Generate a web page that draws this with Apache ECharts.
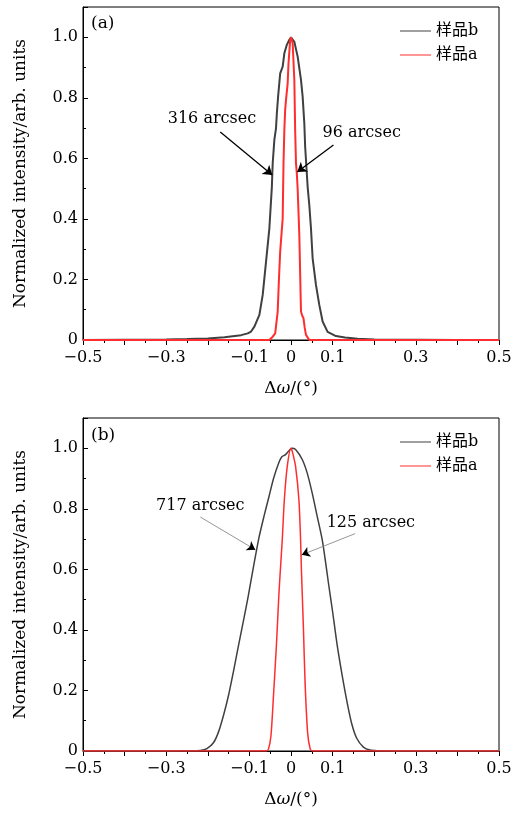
<!DOCTYPE html>
<html>
<head>
<meta charset="utf-8">
<script src="https://cdn.jsdelivr.net/npm/echarts@6/dist/echarts.min.js"></script>
<style>
    html, body { margin: 0; padding: 0; background: #fff; }
    #contain { width: 520px; height: 814px; }
</style>
</head>
<body>
<div id="contain"></div>
<script>
// (a) 顶部图
var topBX = [-0.5, -0.4, -0.3, -0.25, -0.2, -0.16, -0.12, -0.104, -0.096, -0.088, -0.076, -0.068, -0.060, -0.052, -0.046, -0.044, -0.040, -0.036, -0.034, -0.031, -0.026, -0.020, -0.016, -0.010, -0.004, 0, 0.004, 0.008, 0.016, 0.024, 0.028, 0.032, 0.034, 0.038, 0.040, 0.044, 0.048, 0.052, 0.060, 0.068, 0.076, 0.088, 0.108, 0.13, 0.16, 0.2, 0.25, 0.3, 0.4, 0.5];
var topBY = [0, 0.001, 0.002, 0.003, 0.005, 0.009, 0.016, 0.022, 0.028, 0.044, 0.083, 0.149, 0.259, 0.369, 0.506, 0.584, 0.661, 0.700, 0.749, 0.804, 0.881, 0.903, 0.947, 0.975, 0.992, 1.0, 0.995, 0.985, 0.936, 0.859, 0.804, 0.716, 0.639, 0.551, 0.506, 0.446, 0.369, 0.270, 0.182, 0.116, 0.061, 0.027, 0.013, 0.008, 0.004, 0.002, 0.001, 0.001, 0, 0];
var topAX = [-0.5, -0.052, -0.044, -0.038, -0.034, -0.032, -0.029, -0.026, -0.020, -0.018, -0.016, -0.014, -0.012, -0.008, -0.006, -0.002, 0, 0.004, 0.008, 0.010, 0.012, 0.014, 0.016, 0.020, 0.024, 0.027, 0.030, 0.033, 0.036, 0.044, 0.5];
var topAY = [0, 0, 0.011, 0.022, 0.028, 0.094, 0.2, 0.292, 0.402, 0.584, 0.694, 0.760, 0.793, 0.848, 0.914, 0.991, 1.0, 0.980, 0.859, 0.694, 0.584, 0.55, 0.50, 0.347, 0.094, 0.08, 0.072, 0.04, 0.017, 0, 0];

// (b) 底部图
var botBX = [-0.5, -0.3, -0.25, -0.218, -0.202, -0.186, -0.174, -0.162, -0.150, -0.138, -0.126, -0.114, -0.103, -0.090, -0.077, -0.065, -0.053, -0.042, -0.030, -0.022, -0.014, -0.006, 0.002, 0.011, 0.027, 0.039, 0.051, 0.063, 0.075, 0.083, 0.090, 0.100, 0.111, 0.123, 0.135, 0.146, 0.158, 0.174, 0.190, 0.21, 0.25, 0.3, 0.5];
var botBY = [0, 0, 0.001, 0.002, 0.008, 0.028, 0.064, 0.119, 0.185, 0.265, 0.350, 0.432, 0.51, 0.61, 0.705, 0.775, 0.840, 0.900, 0.950, 0.972, 0.978, 0.99, 1.0, 0.996, 0.963, 0.918, 0.852, 0.775, 0.698, 0.625, 0.555, 0.46, 0.35, 0.25, 0.16, 0.09, 0.042, 0.013, 0.003, 0.001, 0, 0, 0];
var botAX = [-0.5, -0.06, -0.054, -0.048, -0.042, -0.035, -0.029, -0.025, -0.021, -0.016, -0.009, 0, 0.004, 0.011, 0.019, 0.023, 0.025, 0.027, 0.030, 0.034, 0.040, 0.046, 0.052, 0.5];
var botAY = [0, 0, 0.007, 0.053, 0.185, 0.351, 0.52, 0.61, 0.698, 0.830, 0.940, 1.0, 0.985, 0.94, 0.830, 0.70, 0.60, 0.52, 0.40, 0.22, 0.06, 0.008, 0, 0];

var seriesNames = ['样品b', '样品a'];
var panelLabels = ['(a)', '(b)'];

var xTickValues = [-0.5, -0.3, -0.1, 0, 0.1, 0.3, 0.5];
var xTickLabels = ['−0.5', '−0.3', '−0.1', '0', '0.1', '0.3', '0.5'];
var yTickValues = [0, 0.2, 0.4, 0.6, 0.8, 1.0];
var yTickLabels = ['0', '0.2', '0.4', '0.6', '0.8', '1.0'];

// 标注: 文字位置 + 箭头起止 (数据坐标)
var annA = [
    {text: '316 arcsec', at: [-0.19, 0.73], from: [-0.170, 0.687], to: [-0.045, 0.545]},
    {text: '96 arcsec', at: [0.17, 0.684], from: [0.102, 0.644], to: [0.015, 0.555]}
];
var annB = [
    {text: '717 arcsec', at: [-0.218, 0.81], from: [-0.218, 0.773], to: [-0.086, 0.665]},
    {text: '125 arcsec', at: [0.192, 0.755], from: [0.154, 0.718], to: [0.026, 0.648]}
];

var SERIF = "'DejaVu Serif', 'Noto Sans CJK SC', serif";
var GRAY = '#404040';
var RED = '#ff2d2d';

function zip(xs, ys) {
    var out = [];
    for (var i = 0; i < xs.length; i++) {
        out.push([xs[i], ys[i]]);
    }
    return out;
}

function pickLabel(values, labels) {
    return function (v) {
        for (var i = 0; i < values.length; i++) {
            if (Math.abs(values[i] - v) < 1e-6) return labels[i];
        }
        return '';
    };
}

function textPoints(ann) {
    return {
        silent: true,
        symbol: 'rect',
        symbolSize: 1,
        itemStyle: {color: 'rgba(0,0,0,0)'},
        label: {show: true, position: 'inside', formatter: '{b}', color: '#000', fontSize: 16, fontFamily: SERIF},
        data: ann.map(function (a) { return {name: a.text, coord: a.at}; })
    };
}

function arrowsTop(ann) {
    return {
        silent: true,
        animation: false,
        symbol: ['none', 'arrow'],
        symbolSize: 9,
        label: {show: false},
        lineStyle: {color: '#000', width: 1.3, type: 'solid'},
        data: ann.map(function (a) { return [{coord: a.from}, {coord: a.to}]; })
    };
}

function arrowsBottom(ann) {
    var data = [];
    ann.forEach(function (a) {
        var k = 0.9;
        var mid = [a.from[0] + (a.to[0] - a.from[0]) * k, a.from[1] + (a.to[1] - a.from[1]) * k];
        data.push([
            {coord: a.from, symbol: 'none', lineStyle: {color: '#8a8a8a', width: 0.9}},
            {coord: a.to, symbol: 'none'}
        ]);
        data.push([
            {coord: mid, symbol: 'none', lineStyle: {color: '#000', width: 0.9}},
            {coord: a.to, symbol: 'arrow'}
        ]);
    });
    return {
        silent: true,
        animation: false,
        symbolSize: 8,
        label: {show: false},
        lineStyle: {type: 'solid'},
        data: data
    };
}

function xAxisFor(idx) {
    return {
        gridIndex: idx,
        type: 'value',
        min: -0.5,
        max: 0.5,
        interval: 0.1,
        name: 'Δ{i|ω}/(°)',
        nameLocation: 'middle',
        nameGap: 40,
        nameTextStyle: {color: '#000', fontSize: 17, fontFamily: SERIF,
            rich: {i: {fontStyle: 'italic', fontSize: 17, fontFamily: SERIF, color: '#000'}}},
        axisLine: {onZero: false, lineStyle: {color: '#000', width: 1}},
        axisTick: {show: true, inside: false, length: 5, lineStyle: {color: '#000'}},
        minorTick: {show: true, splitNumber: 2, length: 3, lineStyle: {color: '#000'}},
        splitLine: {show: false},
        axisLabel: {margin: 10, color: '#000', fontSize: 16, fontFamily: SERIF,
            formatter: pickLabel(xTickValues, xTickLabels)}
    };
}

function yAxisFor(idx) {
    return {
        gridIndex: idx,
        type: 'value',
        min: 0,
        max: 1.1,
        interval: 0.2,
        name: 'Normalized intensity/arb. units',
        nameLocation: 'middle',
        nameGap: 54,
        nameTextStyle: {color: '#000', fontSize: 17, fontFamily: SERIF},
        axisLine: {show: true, onZero: false, lineStyle: {color: '#000', width: 1}},
        axisTick: {show: true, inside: true, length: 5, lineStyle: {color: '#000'}},
        minorTick: {show: true, splitNumber: 2, length: 3, lineStyle: {color: '#000'}},
        splitLine: {show: false},
        axisLabel: {margin: 5, color: '#000', fontSize: 16, fontFamily: SERIF, showMaxLabel: false,
            formatter: pickLabel(yTickValues, yTickLabels)}
    };
}

function legendFor(top, width) {
    return {
        data: seriesNames,
        orient: 'vertical',
        left: 395,
        top: top,
        itemWidth: 31,
        itemHeight: 14,
        itemGap: 8,
        selectedMode: false,
        icon: 'path://M0,0 L31,0 L31,1 L0,1 Z',
        textStyle: {color: '#000', fontSize: 16, fontFamily: SERIF},
        lineStyle: {width: width}
    };
}

var myChart = echarts.init(document.getElementById('contain'));
myChart.setOption({
    animation: false,
    backgroundColor: '#fff',
    grid: [
        {left: 83, right: 21, top: 7, height: 333, show: true, borderColor: '#000', borderWidth: 1},
        {left: 83, right: 21, top: 418, height: 333, show: true, borderColor: '#000', borderWidth: 1}
    ],
    legend: [legendFor(18, 2), legendFor(429, 1.5)],
    xAxis: [xAxisFor(0), xAxisFor(1)],
    yAxis: [yAxisFor(0), yAxisFor(1)],
    graphic: [
        {type: 'text', left: 91, top: 15, style: {text: panelLabels[0], font: '17px ' + SERIF, fill: '#000'}},
        {type: 'text', left: 91, top: 427, style: {text: panelLabels[1], font: '17px ' + SERIF, fill: '#000'}}
    ],
    series: [
        {
            name: seriesNames[0], type: 'line', xAxisIndex: 0, yAxisIndex: 0,
            data: zip(topBX, topBY), showSymbol: false, symbol: 'none',
            lineStyle: {color: GRAY, width: 2}, itemStyle: {color: GRAY},
            markLine: arrowsTop(annA), markPoint: textPoints(annA)
        },
        {
            name: seriesNames[1], type: 'line', xAxisIndex: 0, yAxisIndex: 0,
            data: zip(topAX, topAY), showSymbol: false, symbol: 'none',
            lineStyle: {color: RED, width: 2}, itemStyle: {color: RED}
        },
        {
            name: seriesNames[0], type: 'line', xAxisIndex: 1, yAxisIndex: 1,
            data: zip(botBX, botBY), showSymbol: false, symbol: 'none',
            smooth: 0.25,
            lineStyle: {color: GRAY, width: 1.5}, itemStyle: {color: GRAY},
            markLine: arrowsBottom(annB), markPoint: textPoints(annB)
        },
        {
            name: seriesNames[1], type: 'line', xAxisIndex: 1, yAxisIndex: 1,
            data: zip(botAX, botAY), showSymbol: false, symbol: 'none',
            smooth: 0.25,
            lineStyle: {color: RED, width: 1.5}, itemStyle: {color: RED}
        }
    ]
});
</script>
</body>
</html>
